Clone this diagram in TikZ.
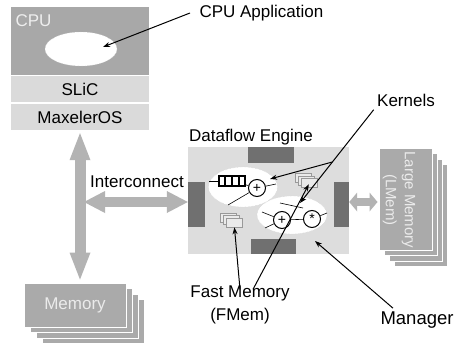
\documentclass[tikz,border=0pt]{standalone}
\usepackage{fontspec}
\setmainfont{Liberation Sans}
\usetikzlibrary{shapes.geometric}
\usetikzlibrary{arrows.meta}
\usetikzlibrary{calc}
\definecolor{cpudark}{HTML}{A8A8A8}
\definecolor{cputext}{HTML}{EEEEEE}
\definecolor{rowgray}{HTML}{DADADA}
\definecolor{enggray}{HTML}{DDDDDD}
\definecolor{blockgray}{HTML}{707070}
\definecolor{memgray}{HTML}{AAAAAA}
\definecolor{memtext}{HTML}{EBEBEB}
\definecolor{arrowgray}{HTML}{B3B3B3}
\definecolor{bubbleedge}{HTML}{D0D0D0}
\definecolor{fmfill}{HTML}{EAEAEA}
\definecolor{fmedge}{HTML}{999999}
\newcommand{\lblsize}{\fontsize{17}{20}\selectfont}
\newcommand{\mgrsize}{\fontsize{18.5}{20}\selectfont}
\newcommand{\lmemsize}{\fontsize{15}{19}\selectfont}
\newcommand{\opsize}{\fontsize{14}{14}\selectfont}

\begin{document}
\begin{tikzpicture}[x=1pt,y=-1pt,font=\lblsize,
    box/.style={rectangle,inner sep=0pt},
    row/.style={box,fill=rowgray,minimum width=138pt,minimum height=26pt},
    memlayer/.style={box,fill=memgray,draw=white,line width=1pt,
      text=memtext,minimum width=102pt,minimum height=44pt},
    lmemlayer/.style={box,fill=memgray,draw=white,line width=1pt,
      minimum width=53pt,minimum height=102pt},
    block/.style={box,fill=blockgray},
    bubble/.style={ellipse,fill=white,draw=bubbleedge,densely dotted,inner sep=0pt},
    op/.style={circle,draw,line width=1pt,fill=white,minimum size=17pt,
      inner sep=0pt,font=\opsize},
    fmlayer/.style={box,fill=fmfill,draw=fmedge,line width=0.6pt,
      minimum width=16pt,minimum height=9pt},
    wire/.style={line width=0.6pt},
    ptr/.style={line width=1pt,-{Stealth[length=7pt,width=5pt]}},
    fat/.style args={#1/#2/#3}{line width=#1,draw=arrowgray,
      {Triangle[width=#2,length=#3,line width=0pt]}-{Triangle[width=#2,length=#3,line width=0pt]}}]
  \useasboundingbox (0,0) rectangle (455,348);
  \fill[white] (0,0) rectangle (455,348);

  % host
  \node (cpu) at (80,41) [box,fill=cpudark,minimum width=138pt,minimum height=68pt] {};
  \node (cpulbl) at (12,21) [anchor=west,text=cputext] {CPU};
  \node (cpuapp) at (81,49) [bubble,minimum width=72pt,minimum height=34pt] {};
  \node (slic) at (80,89) [row] {SLiC};
  \node (maxos) at (80,117) [row] {MaxelerOS};
  \node (appl) at (196,13) [anchor=west] {CPU Application};
  \coordinate (apptip) at (103,47);
  \draw[ptr] ([xshift=-6pt]appl.west) -- (apptip);

  \node (mem3) at (93,321.5) [memlayer] {};
  \node (mem2) at (87,316) [memlayer] {};
  \node (mem1) at (81,310.5) [memlayer] {};
  \node (mem) at (75,305) [memlayer] {Memory};

  \draw[fat=11pt/21pt/27pt,shorten <=3pt,shorten >=3pt]
    (maxos.south) -- (maxos.south |- mem.north);

  % engine
  \node (eng) at (268.5,200.5) [box,fill=enggray,minimum width=161pt,minimum height=107pt] {};
  \node (englbl) at (251,137) {Dataflow Engine};
  \node (mgtop) at (271,155) [block,minimum width=46pt,minimum height=16pt] {};
  \node (mgbot) at (273.5,246.5) [block,minimum width=45pt,minimum height=15pt] {};
  \node (mgleft) at (196.5,204.5) [block,minimum width=17pt,minimum height=45pt] {};
  \node (mgright) at (341.5,204.5) [block,minimum width=15pt,minimum height=45pt] {};

  \coordinate (icl) at (84,202);
  \node (ic) at (137,182) {Interconnect};
  \draw[fat=10pt/22pt/21pt] (icl) -- (icl -| eng.west);

  \node (krnA) at (243,187) [bubble,minimum width=69pt,minimum height=40pt] {};
  \node (fifo) at (232,181) [box,draw,line width=1.5pt,minimum width=26pt,minimum height=10pt] {};
  \draw[line width=1.5pt] ($(fifo.north west)!0.25!(fifo.north east)$) -- ($(fifo.south west)!0.25!(fifo.south east)$);
  \draw[line width=1.5pt] ($(fifo.north west)!0.5!(fifo.north east)$) -- ($(fifo.south west)!0.5!(fifo.south east)$);
  \draw[line width=1.5pt] ($(fifo.north west)!0.75!(fifo.north east)$) -- ($(fifo.south west)!0.75!(fifo.south east)$);
  \node (addA) at (257,188) [op] {+};
  \coordinate (inA) at (209,181);
  \coordinate (outA) at (276,184);
  \coordinate (outB) at (228,205);
  \draw[wire] (inA) -- (fifo);
  \draw[wire] (fifo) -- (addA);
  \draw[wire] (addA) -- (outA);
  \draw[wire] (addA) -- (outB);

  \node (krnB) at (292,215) [bubble,minimum width=70pt,minimum height=38pt] {};
  \node (addB) at (282,220) [op] {+};
  \node (mulB) at (312,219) [op] {*};
  \coordinate (inB) at (262,212);
  \coordinate (inC) at (265,228);
  \coordinate (inD) at (280,203);
  \coordinate (inDe) at (303,208);
  \coordinate (outC) at (327,213);
  \draw[wire] (inB) -- (addB);
  \draw[wire] (inC) -- (addB);
  \draw[wire] (addB) -- (mulB);
  \draw[wire] (inD) -- (inDe);
  \draw[wire] (mulB) -- (outC);

  \node (fmA2) at (228,217.5) [fmlayer] {};
  \node (fmA1) at (231,220) [fmlayer] {};
  \node (fmA) at (234,222.5) [fmlayer] {};
  \node (fmB2) at (303.5,178) [fmlayer] {};
  \node (fmB1) at (306.5,180.5) [fmlayer] {};
  \node (fmB) at (309.5,183) [fmlayer] {};

  % large memory
  \node (lmem3) at (420.5,215.5) [lmemlayer] {};
  \node (lmem2) at (415.5,210) [lmemlayer] {};
  \node (lmem1) at (410.5,204.5) [lmemlayer] {};
  \node (lmem) at (405.5,199) [lmemlayer] {};
  \node (lmemtxt) at (399,200) [rotate=-90,align=center,text=memtext,font=\lmemsize]
    {Large Memory\\(LMem)};
  \draw[fat=8pt/19pt/8pt,shorten >=1pt] (icl -| eng.east) -- (icl -| lmem.west);

  % callouts
  \node (kern) at (406,100) {Kernels};
  \coordinate (kernA) at (300,203);
  \coordinate (kernB) at (270,179);
  \coordinate (kernC) at ($(kern.south west)!0.56!(kernA)$);
  \draw[ptr] (kern.south west) -- (kernA);
  \draw[ptr] (kernC) -- (kernB);

  \node (fmem) at (240,305) [align=center] {Fast Memory\\[3pt](FMem)};
  \coordinate (fmsrc) at ($(fmem.north)+(0,7)$);
  \draw[ptr] (fmsrc) -- (fmA);
  \draw[ptr,shorten >=-4pt] ([xshift=13pt]fmsrc) -- (fmB);

  \node (mgr) at (377,320) [anchor=west,font=\mgrsize] {Manager};
  \coordinate (mgrtip) at (315,241);
  \draw[ptr] ([xshift=16pt]mgr.north west) -- (mgrtip);
\end{tikzpicture}
\end{document}
